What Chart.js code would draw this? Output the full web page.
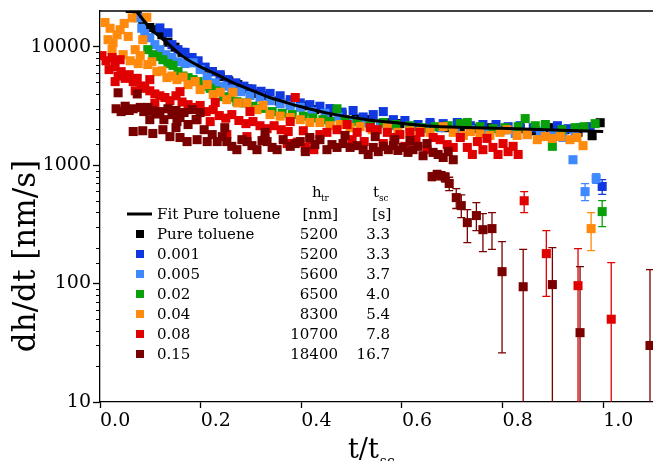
<!DOCTYPE html>
<html>
<head>
<meta charset="utf-8">
<title>dh/dt vs t/t_sc</title>
<script src="https://cdn.jsdelivr.net/npm/chart.js@4.4.1/dist/chart.umd.min.js"></script>
<style>
  html, body { margin: 0; padding: 0; background: #fff; }
  #chart { display: block; }
</style>
</head>
<body>
<canvas id="chart" width="653" height="461"></canvas>
<script>
// --- DATA (x = t/t_sc, y = dh/dt in nm/s) ---
const xTicks = [0.0, 0.2, 0.4, 0.6, 0.8, 1.0];
const yDecades = [10, 100, 1000, 10000];

const fitT = [0.072, 0.099, 0.133, 0.165, 0.199, 0.233, 0.264, 0.298, 0.332, 0.364, 0.398, 0.457, 0.531, 0.596, 0.662, 0.795, 1.0];
const fitY = [20000, 14460, 10800, 8240, 6780, 5800, 4970, 4340, 3790, 3440, 3120, 2720, 2420, 2260, 2130, 2050, 1920];

const blackT = [0.060, 0.074, 0.085, 0.099, 0.111, 0.123, 0.135, 0.149, 0.163, 0.177, 0.191, 0.207, 0.223, 0.239, 0.256, 0.274, 0.294, 0.314, 0.334, 0.356, 0.378, 0.402, 0.427, 0.453, 0.481, 0.509, 0.537, 0.567, 0.596, 0.626, 0.656, 0.686, 0.716, 0.746, 0.775, 0.805, 0.835, 0.865, 0.895, 0.924, 0.950, 0.978, 0.994];
const blackY = [21000, 19000, 16900, 14500, 13900, 12600, 10900, 9900, 8950, 8100, 7400, 6600, 6150, 5600, 5130, 4780, 4400, 4020, 3850, 3480, 3350, 3160, 2940, 2740, 2670, 2460, 2420, 2280, 2240, 2120, 2170, 2070, 2120, 2040, 2070, 1990, 2030, 1950, 2070, 1990, 1890, 1770, 2280];

const blueT = [0.119, 0.135, 0.143, 0.155, 0.169, 0.183, 0.195, 0.209, 0.223, 0.239, 0.254, 0.270, 0.286, 0.302, 0.320, 0.338, 0.358, 0.378, 0.398, 0.417, 0.437, 0.457, 0.481, 0.503, 0.523, 0.543, 0.563, 0.583, 0.606, 0.632, 0.656, 0.682, 0.710, 0.736, 0.761, 0.787, 0.811, 0.835, 0.861, 0.885, 0.909, 0.930, 0.954, 0.974];
const blueY = [14400, 13100, 10400, 9440, 8950, 8100, 7600, 6720, 6150, 5800, 5270, 4950, 4640, 4400, 4200, 4030, 3850, 3570, 3350, 3240, 3140, 3000, 2800, 2890, 2550, 2670, 2830, 2420, 2380, 2200, 2290, 2240, 2290, 2150, 2200, 2200, 2110, 2150, 2070, 2110, 2150, 2030, 2070, 2110];
const blueErrT = [0.998];
const blueErrY = [660];
const blueErrHi = [755];
const blueErrLo = [565];

const lblueT = [0.076, 0.083, 0.089, 0.099, 0.109, 0.119, 0.131, 0.143, 0.155, 0.169, 0.185, 0.199, 0.213, 0.229, 0.245, 0.262, 0.280, 0.298, 0.318, 0.338, 0.358, 0.378, 0.398, 0.421, 0.447, 0.473, 0.501, 0.529, 0.557, 0.586, 0.616, 0.646, 0.676, 0.706, 0.736, 0.765, 0.795, 0.825, 0.849, 0.875, 0.899, 0.920, 0.940, 0.944];
const lblueY = [17500, 14300, 12900, 11900, 10400, 9440, 8560, 8100, 7450, 7200, 7300, 6400, 5480, 4950, 4640, 4400, 4170, 3870, 3720, 3500, 3300, 3190, 3070, 2830, 2740, 2560, 2370, 2270, 2240, 2150, 2070, 2030, 2070, 1950, 1990, 1920, 1950, 1850, 1810, 1920, 1850, 1710, 1110, 1890];
const lblueErrT = [0.964, 0.986];
const lblueErrY = [597, 769];
const lblueErrHi = [699, 848];
const lblueErrLo = [501, 700];

const greenT = [0.095, 0.105, 0.115, 0.125, 0.135, 0.145, 0.155, 0.165, 0.175, 0.185, 0.195, 0.207, 0.219, 0.231, 0.245, 0.258, 0.272, 0.288, 0.304, 0.322, 0.342, 0.362, 0.382, 0.404, 0.423, 0.443, 0.457, 0.471, 0.487, 0.511, 0.537, 0.563, 0.588, 0.616, 0.640, 0.666, 0.692, 0.716, 0.730, 0.755, 0.781, 0.805, 0.831, 0.845, 0.865, 0.885, 0.899, 0.918, 0.944, 0.962, 0.984];
const greenY = [9440, 8560, 8250, 7760, 7200, 6950, 6150, 5650, 5480, 5270, 5070, 4640, 4450, 4240, 3780, 3720, 3430, 3350, 3140, 3010, 2830, 2740, 2670, 2590, 2500, 2420, 2330, 2990, 2420, 2330, 2240, 2290, 2200, 2150, 2070, 2110, 2150, 2240, 2290, 2110, 2030, 2070, 2110, 2470, 2150, 2200, 1440, 1990, 2070, 2110, 2240];
const greenErrT = [0.998];
const greenErrY = [405];
const greenErrHi = [501];
const greenErrLo = [303];

const orangeT = [0.010, 0.020, 0.026, 0.034, 0.040, 0.048, 0.056, 0.064, 0.070, 0.080, 0.085, 0.093, 0.095, 0.103, 0.113, 0.123, 0.133, 0.143, 0.153, 0.165, 0.175, 0.189, 0.199, 0.213, 0.225, 0.239, 0.252, 0.264, 0.274, 0.292, 0.312, 0.324, 0.338, 0.358, 0.378, 0.398, 0.417, 0.437, 0.457, 0.477, 0.497, 0.517, 0.541, 0.571, 0.592, 0.616, 0.636, 0.656, 0.682, 0.702, 0.722, 0.736, 0.755, 0.775, 0.795, 0.809, 0.829, 0.849, 0.869, 0.885, 0.899, 0.915, 0.934, 0.948, 0.960,
  0.016, 0.024, 0.046, 0.060, 0.076];
const orangeY = [16000, 14300, 10800, 12600, 13900, 15700, 12200, 17500, 9440, 8400, 11450, 17700, 7060, 7450, 6150, 6250, 5480, 5650, 5270, 5540, 4780, 5070, 4340, 4780, 3940, 4120, 3570, 4120, 3350, 3350, 2940, 3190, 2670, 2590, 2520, 2420, 2290, 2290, 2150, 2200, 2070, 2110, 1990, 2070, 1890, 1950, 1920, 1890, 2110, 1890, 1780, 1920, 1850, 1780, 1890, 1990, 1780, 1810, 1640, 1740, 1680, 1740, 1640, 1710, 1460,
  11450, 9440, 8560, 7600, 7200];
const orangeErrT = [0.976];
const orangeErrY = [291];
const orangeErrHi = [397];
const orangeErrLo = [190];

const redT = [0.004, 0.012, 0.018, 0.024, 0.030, 0.036, 0.042, 0.050, 0.058, 0.066, 0.074, 0.082, 0.089, 0.099, 0.109, 0.119, 0.129, 0.139, 0.151, 0.163, 0.175, 0.187, 0.199, 0.211, 0.225, 0.237, 0.250, 0.262, 0.276, 0.290, 0.304, 0.318, 0.332, 0.346, 0.360, 0.374, 0.388, 0.392, 0.404, 0.417, 0.425, 0.437, 0.451, 0.471, 0.491, 0.501, 0.511, 0.525, 0.537, 0.551, 0.563, 0.571, 0.584, 0.596, 0.606, 0.616, 0.628, 0.636, 0.650, 0.662, 0.676, 0.690, 0.702, 0.716, 0.730, 0.740, 0.750, 0.761, 0.769, 0.781, 0.791, 0.801, 0.811, 0.821, 0.831,
  0.030, 0.070, 0.109, 0.149, 0.193, 0.219, 0.252, 0.292, 0.328, 0.372, 0.408, 0.040, 0.099, 0.159, 0.229, 0.298, 0.378];
const redY = [8400, 7600, 6400, 8100, 6800, 5650, 6150, 5400, 5800, 5070, 5400, 4660, 4450, 4240, 3990, 3850, 3720, 3500, 3850, 3410, 3240, 3070, 3190, 2830, 2940, 2620, 2490, 2670, 2380, 2240, 2330, 2150, 2030, 2150, 1990, 1920, 3720, 1560, 1950, 1640, 1350, 1810, 1890, 1990, 2200, 1640, 1890, 1580, 2070, 1990, 1520, 1890, 1710, 1810, 1440, 1890, 1640, 1890, 1350, 1710, 1640, 1490, 1410, 1710, 1410, 1230, 1580, 1350, 1680, 1410, 1230, 1520, 1300, 1440, 1230,
  5070, 4240, 3310, 2830, 2420, 2330, 1810, 1740, 1640, 1520, 1410, 7760, 5270, 4170, 3380, 2830, 2330];
const redErrT = [0.843, 0.887, 0.950, 1.016];
const redErrY = [500, 179, 96, 50];
const redErrHi = [597, 280, 197, 150];
const redErrLo = [397, 78, 1, 1];

const maroonT = [0.032, 0.036, 0.042, 0.050, 0.058, 0.066, 0.074, 0.080, 0.087, 0.095, 0.103, 0.111, 0.119, 0.127, 0.135, 0.143, 0.151, 0.159, 0.167, 0.175, 0.183, 0.191, 0.199,
  0.066, 0.085, 0.105, 0.125, 0.139, 0.151, 0.159, 0.173, 0.193, 0.207, 0.213, 0.223, 0.233, 0.243, 0.252, 0.262, 0.272, 0.282, 0.292, 0.302, 0.312, 0.322, 0.332, 0.342, 0.352, 0.364, 0.378, 0.388, 0.398, 0.408, 0.417, 0.427, 0.437, 0.451, 0.461, 0.471, 0.483, 0.497, 0.511, 0.523, 0.533, 0.543, 0.553, 0.563, 0.573, 0.583, 0.592, 0.602, 0.612, 0.622, 0.632, 0.642, 0.650, 0.662, 0.672, 0.682, 0.692, 0.702,
  0.153, 0.099, 0.248, 0.328, 0.487, 0.547, 0.586, 0.616];
const maroonY = [2990, 4080, 2830, 3140, 2890, 2990, 3990, 3070, 2830, 3070, 2890, 2700, 2830, 2420, 2990, 2670, 2890, 2520, 2780, 2200, 2940, 2420, 2780,
  1920, 1950, 1850, 1990, 1740, 2070, 1710, 1580, 1640, 1990, 1580, 1810, 1580, 1740, 1580, 1440, 1350, 1640, 1580, 1460, 1350, 1610, 1580, 1410, 1350, 1640, 1440, 1520, 1580, 1300, 1710, 1490, 1640, 1350, 1490, 1410, 1520, 1410, 1460, 1350, 1230, 1410, 1300, 1440, 1350, 1460, 1330, 1410, 1280, 1350, 1440, 1200, 1520, 1280, 1230, 1160, 1300, 1110,
  2330, 2420, 2070, 1890, 1780, 1740, 1640, 1610];
const maroonErrT = [0.660, 0.670, 0.678, 0.686, 0.694, 0.708, 0.718, 0.730, 0.748, 0.761, 0.779, 0.799, 0.841, 0.899, 0.954, 1.093];
const maroonErrY = [800, 830, 815, 790, 700, 532, 455, 327, 375, 285, 291, 126, 94, 98, 38.5, 30];
const maroonErrHi = [860, 900, 880, 860, 790, 634, 560, 421, 483, 390, 397, 226, 194, 201, 139, 131];
const maroonErrLo = [740, 770, 750, 720, 610, 430, 360, 222, 280, 186, 194, 26, 1, 1, 1, 1];

// legend table
const legendNames = ['Pure toluene', '0.001', '0.005', '0.02', '0.04', '0.08', '0.15'];
const legendHtr = ['5200', '5200', '5600', '6500', '8300', '10700', '18400'];
const legendTsc = ['3.3', '3.3', '3.7', '4.0', '5.4', '7.8', '16.7'];
const seriesColors = ['#000000', '#1038e0', '#3f88ff', '#0aa00a', '#ff8a0c', '#e00000', '#7a0000'];

// --- HELPERS ---
const pts = (t, y) => t.map((v, i) => ({ x: v, y: y[i] }));
const isDecade = v => yDecades.includes(Math.round(v));
const SERIF = '"DejaVu Serif", "Liberation Serif", serif';

const seriesData = [
  { t: blackT, y: blackY, err: null },
  { t: blueT, y: blueY, err: { t: blueErrT, y: blueErrY, hi: blueErrHi, lo: blueErrLo } },
  { t: lblueT, y: lblueY, err: { t: lblueErrT, y: lblueErrY, hi: lblueErrHi, lo: lblueErrLo } },
  { t: greenT, y: greenY, err: { t: greenErrT, y: greenErrY, hi: greenErrHi, lo: greenErrLo } },
  { t: orangeT, y: orangeY, err: { t: orangeErrT, y: orangeErrY, hi: orangeErrHi, lo: orangeErrLo } },
  { t: redT, y: redY, err: { t: redErrT, y: redErrY, hi: redErrHi, lo: redErrLo } },
  { t: maroonT, y: maroonY, err: { t: maroonErrT, y: maroonErrY, hi: maroonErrHi, lo: maroonErrLo } }
];

function buildDatasets() {
  const sets = [{
    type: 'line',
    label: 'Fit Pure toluene',
    data: pts(fitT, fitY),
    borderColor: '#000',
    borderWidth: 3,
    pointRadius: 0,
    cubicInterpolationMode: 'monotone',
    fill: false,
    clip: 0,
    order: 0
  }];
  seriesData.forEach((s, i) => {
    let data = pts(s.t, s.y);
    if (s.err) data = data.concat(pts(s.err.t, s.err.y));
    sets.push({
      type: 'scatter',
      label: legendNames[i],
      data: data,
      backgroundColor: seriesColors[i],
      borderWidth: 0,
      pointStyle: 'rect',
      pointRadius: 6.4,
      pointHoverRadius: 6.4,
      clip: 0,
      order: 7 - i
    });
  });
  return sets;
}

// --- PLUGINS ---
const errorBars = {
  id: 'errorBars',
  beforeDatasetsDraw(chart) {
    const { ctx, chartArea: a, scales: { x, y } } = chart;
    ctx.save();
    ctx.beginPath();
    ctx.rect(a.left, a.top, a.right - a.left, a.bottom - a.top);
    ctx.clip();
    ctx.lineWidth = 1.3;
    seriesData.forEach((s, i) => {
      if (!s.err) return;
      ctx.strokeStyle = seriesColors[i];
      s.err.t.forEach((t, k) => {
        const px = x.getPixelForValue(t);
        const top = y.getPixelForValue(s.err.hi[k]);
        const bot = y.getPixelForValue(Math.max(s.err.lo[k], 0.01));
        ctx.beginPath();
        ctx.moveTo(px, top); ctx.lineTo(px, bot);
        ctx.moveTo(px - 4, top); ctx.lineTo(px + 4, top);
        ctx.moveTo(px - 4, bot); ctx.lineTo(px + 4, bot);
        ctx.stroke();
      });
    });
    ctx.restore();
  }
};

const frame = {
  id: 'frame',
  afterDraw(chart) {
    const { ctx, chartArea: a, scales: { y } } = chart;
    ctx.save();
    ctx.strokeStyle = '#000';
    ctx.lineWidth = 1.3;
    // top border
    ctx.beginPath();
    ctx.moveTo(a.left, a.top); ctx.lineTo(a.right, a.top);
    ctx.stroke();
    // minor ticks on the log axis
    ctx.lineWidth = 1;
    y.ticks.forEach(tk => {
      if (isDecade(tk.value) || tk.value > 10000 * 1.01) return;
      const py = Math.round(y.getPixelForValue(tk.value)) + 0.5;
      ctx.beginPath();
      ctx.moveTo(a.left - 4, py); ctx.lineTo(a.left, py);
      ctx.stroke();
    });

    // axis titles
    ctx.fillStyle = '#000';
    ctx.save();
    ctx.translate(27, 256);
    ctx.rotate(-Math.PI / 2);
    ctx.font = '31px ' + SERIF;
    ctx.textAlign = 'center';
    ctx.textBaseline = 'middle';
    ctx.fillText('dh/dt [nm/s]', 0, 0);
    ctx.restore();

    ctx.textAlign = 'left';
    ctx.textBaseline = 'alphabetic';
    ctx.font = '27px ' + SERIF;
    ctx.fillText('t/t', 348, 458);
    const w = ctx.measureText('t/t').width;
    ctx.font = '14px ' + SERIF;
    ctx.fillText('sc', 348 + w + 1, 466);

    drawLegend(ctx);
    ctx.restore();
  }
};

function drawLegend(ctx) {
  const big = '15px ' + SERIF;
  const small = '9px ' + SERIF;
  ctx.fillStyle = '#000';
  ctx.textBaseline = 'alphabetic';

  // column headers
  ctx.textAlign = 'left';
  ctx.font = big; ctx.fillText('h', 312, 197);
  ctx.font = small; ctx.fillText('tr', 321, 201);
  ctx.font = big; ctx.fillText('t', 373, 197);
  ctx.font = small; ctx.fillText('sc', 379, 201);

  // fit line row
  ctx.strokeStyle = '#000';
  ctx.lineWidth = 3;
  ctx.beginPath(); ctx.moveTo(127, 214); ctx.lineTo(152, 214); ctx.stroke();
  ctx.font = big;
  ctx.fillText('Fit Pure toluene', 157, 219);
  ctx.textAlign = 'right';
  ctx.fillText('[nm]', 338, 219);
  ctx.textAlign = 'left';
  ctx.fillText('[s]', 372, 219);

  legendNames.forEach((name, i) => {
    const yc = 234 + i * 20;
    ctx.fillStyle = seriesColors[i];
    ctx.fillRect(136, yc - 4, 8, 8);
    ctx.fillStyle = '#000';
    ctx.textAlign = 'left';
    ctx.fillText(name, 157, yc + 5);
    ctx.textAlign = 'right';
    ctx.fillText(legendHtr[i], 338, yc + 5);
    ctx.fillText(legendTsc[i], 390, yc + 5);
  });
}

// --- CHART ---
new Chart(document.getElementById('chart'), {
  data: { datasets: buildDatasets() },
  options: {
    responsive: false,
    animation: false,
    devicePixelRatio: 1,
    layout: { autoPadding: false, padding: { top: 11, left: 0, right: 0, bottom: 0 } },
    plugins: { legend: { display: false }, tooltip: { enabled: false } },
    scales: {
      x: {
        type: 'linear',
        min: 0,
        max: 1.099,
        afterFit: s => { s.height = 59; s.paddingLeft = 0; s.paddingRight = 0; },
        afterBuildTicks: s => { s.ticks = xTicks.map(v => ({ value: v })); },
        ticks: {
          align: 'start',
          color: '#000',
          padding: 2,
          autoSkip: false,
          maxRotation: 0,
          font: { family: SERIF, size: 19 },
          callback: v => v.toFixed(1)
        },
        grid: { display: true, drawOnChartArea: false, tickLength: 6, tickColor: '#000', tickWidth: 1.3 },
        border: { display: true, color: '#000', width: 1.3 }
      },
      y: {
        type: 'logarithmic',
        min: 10,
        max: 20000,
        afterFit: s => { s.width = 100; s.paddingTop = 0; s.paddingBottom = 0; },
        ticks: {
          color: '#000',
          padding: 2,
          autoSkip: false,
          font: { family: SERIF, size: 19 },
          callback: v => isDecade(v) ? String(Math.round(v)) : ''
        },
        grid: {
          display: true,
          drawOnChartArea: false,
          tickLength: 7,
          tickWidth: 1.3,
          tickColor: c => (c.tick && isDecade(c.tick.value)) ? '#000' : 'rgba(0,0,0,0)'
        },
        border: { display: true, color: '#000', width: 1.3 }
      }
    }
  },
  plugins: [errorBars, frame]
});
</script>
</body>
</html>
